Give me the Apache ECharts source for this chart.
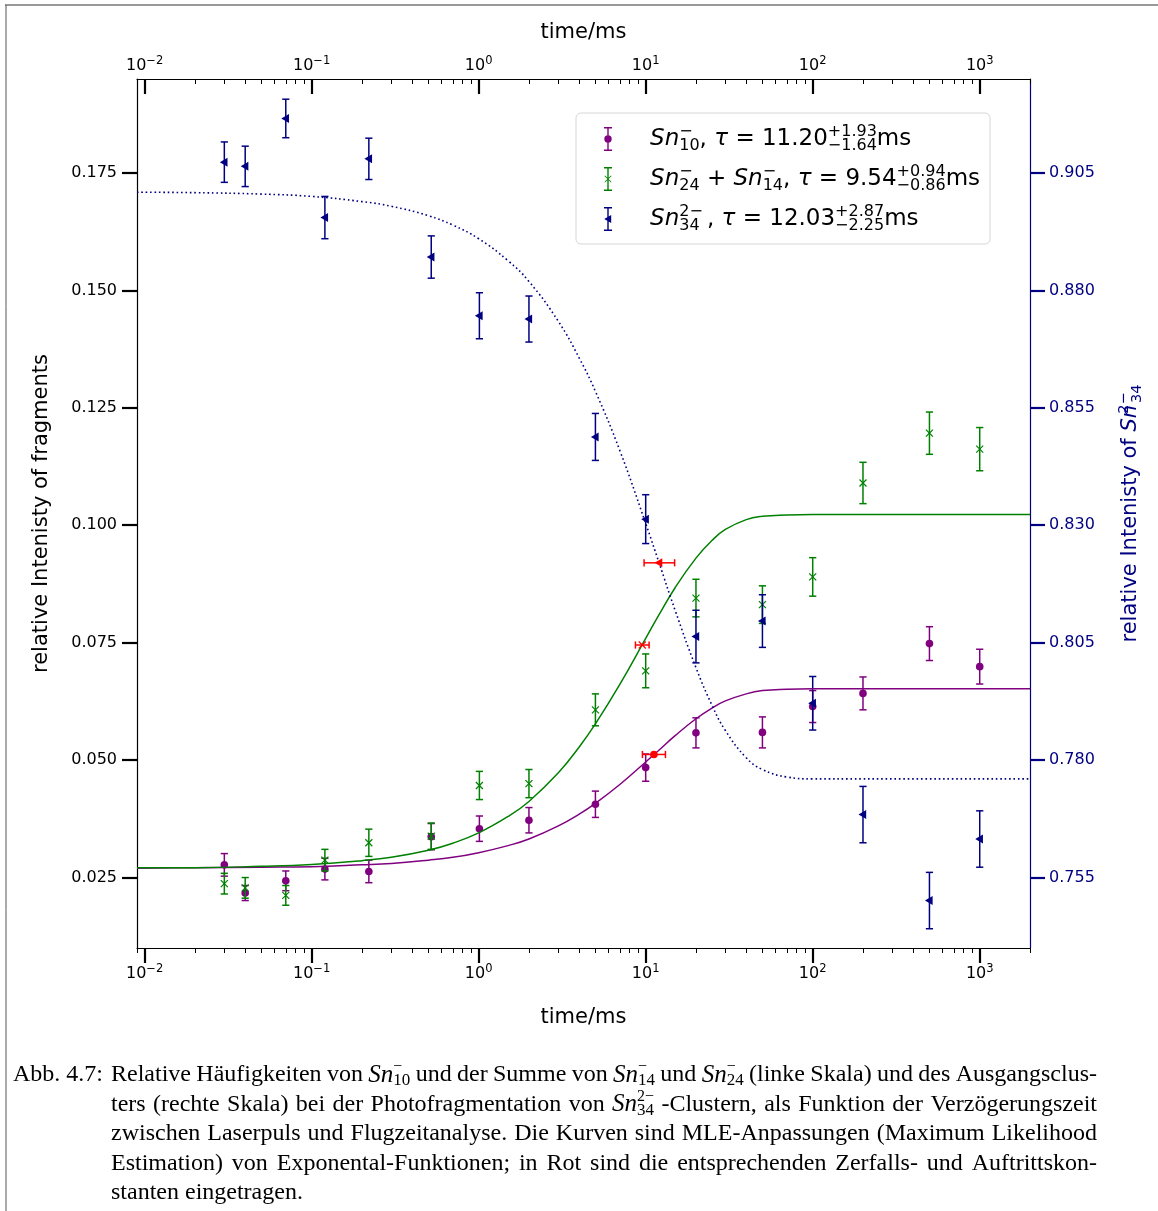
<!DOCTYPE html>
<html><head><meta charset="utf-8">
<script src="https://cdn.jsdelivr.net/npm/echarts@6/dist/echarts.min.js"></script>
<style>html,body{margin:0;padding:0;background:#fff}#c{width:1158px;height:1211px}</style>
</head><body><div id="c"></div><script>
// ---------------- data ----------------
const times = [0.03, 0.04, 0.07, 0.12, 0.22, 0.52, 1.01, 2.0, 5.0, 10, 20, 50, 100, 200, 500, 1000];
const sn10 =    [0.0277, 0.0217, 0.0243, 0.0268, 0.0263, 0.0337, 0.0354, 0.0372, 0.0406, 0.0484, 0.0558, 0.0559, 0.0614, 0.0642, 0.0748, 0.0699];
const sn10Err = [0.0024, 0.0016, 0.0021, 0.0023, 0.0024, 0.0028, 0.0027, 0.0027, 0.0028, 0.0029, 0.0032, 0.0033, 0.0034, 0.0035, 0.0036, 0.0037];
const sn24 =    [0.0237, 0.0228, 0.0212, 0.0287, 0.0324, 0.0338, 0.0446, 0.0450, 0.0607, 0.0690, 0.0845, 0.0831, 0.0890, 0.1090, 0.1196, 0.1162];
const sn24Err = [0.0022, 0.0022, 0.0021, 0.0023, 0.0029, 0.0028, 0.0030, 0.0030, 0.0034, 0.0036, 0.0040, 0.0040, 0.0041, 0.0044, 0.0045, 0.0046];
const sn34 =    [0.9073, 0.9064, 0.9166, 0.8955, 0.9080, 0.8871, 0.8746, 0.8739, 0.8488, 0.8313, 0.8063, 0.8096, 0.7921, 0.7684, 0.7501, 0.7632];
const sn34Err = [0.0043, 0.0043, 0.0041, 0.0045, 0.0044, 0.0045, 0.0049, 0.0049, 0.0050, 0.0052, 0.0056, 0.0056, 0.0057, 0.0060, 0.0060, 0.0060];

const curveTimes = [0.009, 0.02, 0.05, 0.1, 0.2, 0.3, 0.5, 0.7, 1, 1.5, 2, 3, 4, 5, 7, 10, 12, 15, 20, 25, 30, 40, 50, 70, 100, 200, 2000];
const sn10Curve = [0.0270, 0.0271, 0.0272, 0.0273, 0.0277, 0.0280, 0.0287, 0.0293, 0.0303, 0.0318, 0.0332, 0.0360, 0.0385, 0.0408, 0.0448, 0.0496, 0.0521, 0.0552, 0.0588, 0.0611, 0.0626, 0.0641, 0.0648, 0.0651, 0.0652, 0.0652, 0.0652];
const sn24Curve = [0.0271, 0.0271, 0.0274, 0.0278, 0.0286, 0.0293, 0.0308, 0.0323, 0.0345, 0.0380, 0.0412, 0.0473, 0.0528, 0.0577, 0.0661, 0.0759, 0.0809, 0.0867, 0.0930, 0.0968, 0.0991, 0.1012, 0.1019, 0.1022, 0.1023, 0.1023, 0.1023];
const sn34Curve = [0.9009, 0.9008, 0.9005, 0.9000, 0.8989, 0.8979, 0.8959, 0.8939, 0.8910, 0.8863, 0.8819, 0.8734, 0.8656, 0.8585, 0.8459, 0.8304, 0.8221, 0.8119, 0.7997, 0.7916, 0.7863, 0.7805, 0.7780, 0.7764, 0.7760, 0.7760, 0.7760];

const tauTimes   = [11.20, 9.54, 12.03];
const tauValues  = [0.0512, 0.0745, 0.0920];
const tauErrLow  = [1.64, 0.86, 2.25];
const tauErrHigh = [1.93, 0.94, 2.87];
const tauMarkers = ['circle', 'x', 'tri'];

const xMajorExps = [-2, -1, 0, 1, 2, 3];
const xMinorMultiples = [2, 3, 4, 5, 6, 7, 8, 9];
const leftTicks  = [0.025, 0.050, 0.075, 0.100, 0.125, 0.150, 0.175];
const rightTicks = [0.755, 0.780, 0.805, 0.830, 0.855, 0.880, 0.905];

// ---------------- styling ----------------
const PURPLE = '#800080', GREEN = '#008000', NAVY = '#000080', RED = '#ff0000';
const AF = 'DejaVu Sans';
const xMin = Math.log10(0.009), xMax = Math.log10(2000);
const xMinor = [];
[-3, -2, -1, 0, 1, 2, 3].forEach(d => xMinorMultiples.forEach(m => {
  const v = Math.log10(m) + d; if (v >= xMin - 1e-9 && v <= xMax + 1e-9) xMinor.push(v);
}));

function markerShape(kind, cx, cy, color) {
  if (kind === 'circle') return {type: 'circle', shape: {cx, cy, r: 3.8}, style: {fill: color}};
  if (kind === 'x') return {type: 'group', children: [
    {type: 'line', shape: {x1: cx - 3.5, y1: cy - 3.5, x2: cx + 3.5, y2: cy + 3.5}, style: {stroke: color, lineWidth: 1.2}},
    {type: 'line', shape: {x1: cx - 3.5, y1: cy + 3.5, x2: cx + 3.5, y2: cy - 3.5}, style: {stroke: color, lineWidth: 1.2}}]};
  return {type: 'polygon', shape: {points: [[cx - 4.5, cy], [cx + 3.2, cy - 4.5], [cx + 3.2, cy + 4.5]]}, style: {fill: color}};
}

function errSeries(name, color, vals, errs, marker, yAxisIndex) {
  return {
    type: 'custom', name, xAxisIndex: 0, yAxisIndex, silent: true, z: 2,
    itemStyle: {color},
    data: times.map((t, i) => [Math.log10(t), vals[i], errs[i]]),
    renderItem(params, api) {
      const x = api.value(0), y = api.value(1), e = api.value(2);
      const c = api.coord([x, y]), t = api.coord([x, y + e]), b = api.coord([x, y - e]);
      const cw = 3.6, st = {stroke: color, lineWidth: 1.5};
      return {type: 'group', children: [
        {type: 'line', shape: {x1: c[0], y1: t[1], x2: c[0], y2: b[1]}, style: st},
        {type: 'line', shape: {x1: c[0] - cw, y1: t[1], x2: c[0] + cw, y2: t[1]}, style: st},
        {type: 'line', shape: {x1: c[0] - cw, y1: b[1], x2: c[0] + cw, y2: b[1]}, style: st},
        markerShape(marker, c[0], c[1], color)
      ]};
    }
  };
}

function curveSeries(name, vals, color, yAxisIndex, dotted) {
  return {
    type: 'line', name, xAxisIndex: 0, yAxisIndex, silent: true, z: 3,
    data: curveTimes.map((t, i) => [Math.log10(t), vals[i]]),
    showSymbol: false, symbol: 'none', smooth: 0.45,
    lineStyle: {color, width: dotted ? 1.6 : 1.5, type: dotted ? [1.6, 2.8] : 'solid'}
  };
}

const tauSeries = {
  type: 'custom', name: 'tau', xAxisIndex: 0, yAxisIndex: 0, silent: true, z: 4,
  data: tauTimes.map((t, i) => [Math.log10(t), tauValues[i], Math.log10(t - tauErrLow[i]), Math.log10(t + tauErrHigh[i]), i]),
  renderItem(params, api) {
    const x = api.value(0), y = api.value(1), xl = api.value(2), xh = api.value(3), k = api.value(4);
    const c = api.coord([x, y]), l = api.coord([xl, y]), h = api.coord([xh, y]);
    const ch = 3.6, st = {stroke: RED, lineWidth: 1.5};
    return {type: 'group', children: [
      {type: 'line', shape: {x1: l[0], y1: c[1], x2: h[0], y2: c[1]}, style: st},
      {type: 'line', shape: {x1: l[0], y1: c[1] - ch, x2: l[0], y2: c[1] + ch}, style: st},
      {type: 'line', shape: {x1: h[0], y1: c[1] - ch, x2: h[0], y2: c[1] + ch}, style: st},
      markerShape(tauMarkers[k], c[0], c[1], RED)
    ]};
  }
};

const xRich = {
  b: {fontSize: 16, fontFamily: AF, color: '#000', lineHeight: 20},
  s: {fontSize: 11.5, fontFamily: AF, color: '#000', padding: [0, 0, 10, 0], lineHeight: 20}
};
function xLabel(v) { const e = Math.round(v); return '{b|10}{s|' + (e < 0 ? '\u2212' + (-e) : e) + '}'; }
const xBase = {type: 'value', min: xMin, max: xMax, splitLine: {show: false}};

// legend
const BARS = 'M0,0H8V1.4H0Z M3.3,0H4.7V24H3.3Z M0,22.6H8V24H0Z ';
const ICON_CIRCLE = 'path://' + BARS + 'M0.3,12A3.7,3.7 0 1 1 7.7,12A3.7,3.7 0 1 1 0.3,12Z';
const ICON_X = 'path://' + BARS + 'M1,8.4L7.6,15L7,15.6L0.4,9Z M7,8.4L7.6,9L1,15.6L0.4,15Z';
const ICON_TRI = 'path://' + BARS + 'M0.2,12L7.2,8L7.2,16Z';
const legendText = {
  sn10: '{pad|    }{it|Sn}{sp|\u2212}{sb|10}{n|, }{it|\u03c4}{n| = 11.20}{sp|+1.93}{sb|\u22121.64}{n|ms}',
  sn24: '{pad|    }{it|Sn}{sp|\u2212}{sb|24}{n| + }{it|Sn}{sp|\u2212}{sb|14}{n|, }{it|\u03c4}{n| = 9.54}{sp|+0.94}{sb|\u22120.86}{n|ms}',
  sn34: '{pad|    }{it|Sn}{sp|2\u2212}{sb|34}{n| , }{it|\u03c4}{n| = 12.03}{sp|+2.87}{sb|\u22122.25}{n|ms}'
};
const legRich = {
  pad: {fontFamily: AF, fontSize: 26, lineHeight: 30},
  it: {fontFamily: AF, fontStyle: 'italic', fontSize: 23, lineHeight: 30, color: '#000'},
  n: {fontFamily: AF, fontSize: 23, lineHeight: 30, color: '#000'},
  sp: {fontFamily: AF, fontSize: 16, width: 0, padding: [0, 0, 14, 0], lineHeight: 30, color: '#000'},
  sb: {fontFamily: AF, fontSize: 16, padding: [14, 0, 0, 0], lineHeight: 30, color: '#000'}
};

// ---------------- caption (justified rich text lines) ----------------
const captionLead = 'Abb. 4.7:';
const captionLines = [
  'Relative Häufigkeiten von $Sn|\u2212|10$ und der Summe von $Sn|\u2212|14$ und $Sn|\u2212|24$ (linke Skala) und des Ausgangsclus-',
  'ters (rechte Skala) bei der Photofragmentation von $Sn|2\u2212|34$ -Clustern, als Funktion der Verzögerungszeit',
  'zwischen Laserpuls und Flugzeitanalyse. Die Kurven sind MLE-Anpassungen (Maximum Likelihood',
  'Estimation) von Exponental-Funktionen; in Rot sind die entsprechenden Zerfalls- und Auftrittskon-',
  'stanten eingetragen.'
];
const CF = 'Liberation Serif', CS = 24;
const capY = [1075, 1104.5, 1134, 1163.5, 1193];
const capX0 = 111, capX1 = 1097;
const mctx = document.createElement('canvas').getContext('2d');
function mw(font, text) { mctx.font = font; return mctx.measureText(text).width; }
const tokFont = {
  t: `normal ${CS}px "${CF}"`, m: `italic ${CS + 1}px "${CF}"`, b: `normal 17px "${CF}"`
};
const capRich = {
  t: {fontFamily: CF, fontSize: CS, lineHeight: 30, fill: '#000'},
  m: {fontFamily: CF, fontStyle: 'italic', fontSize: CS + 1, lineHeight: 30, fill: '#000'},
  p: {fontFamily: CF, fontSize: 16, width: 0, padding: [0, 0, 16, 0], lineHeight: 30, fill: '#000'},
  b: {fontFamily: CF, fontSize: 17, padding: [12, 0, 0, 0], lineHeight: 30, fill: '#000'}
};
const capGraphics = [];
captionLines.forEach((line, li) => {
  const words = line.split(' ').map(w => {
    if (w.startsWith('$')) { const p = w.slice(1, -1).split('|'); return [['m', p[0]], ['p', p[1]], ['b', p[2]]]; }
    return [['t', w]];
  });
  let natural = 0;
  words.forEach(ws => ws.forEach(([s, txt]) => { if (s !== 'p') natural += mw(tokFont[s], txt); }));
  const spaceW = mw(tokFont.t, ' ');
  const gap = (li < captionLines.length - 1) ? (capX1 - capX0 - natural) / (words.length - 1) : spaceW;
  const gname = 'g' + li;
  capRich[gname] = {fontFamily: CF, fontSize: CS, lineHeight: 30, width: Math.max(gap, 2)};
  const str = words.map(ws => ws.map(([s, txt]) => '{' + s + '|' + txt + '}').join('')).join('{' + gname + '| }');
  capGraphics.push({type: 'text', x: capX0, y: capY[li], silent: true,
    style: {text: str, rich: capRich, align: 'left', verticalAlign: 'middle', fontFamily: CF, fontSize: CS, fill: '#000'}});
});
capGraphics.push({type: 'text', x: 13, y: capY[0], silent: true,
  style: {text: captionLead, align: 'left', verticalAlign: 'middle', fontFamily: CF, fontSize: CS, fill: '#000', lineHeight: 30}});

// ---------------- chart ----------------
const chart = echarts.init(document.getElementById('c'), null, {renderer: 'canvas'});
chart.setOption({
  animation: false,
  backgroundColor: '#fff',
  grid: {left: 137, top: 79, width: 893, height: 869, containLabel: false},
  xAxis: [
    {...xBase, position: 'bottom',
      axisLine: {show: true, onZero: false, lineStyle: {color: '#000', width: 1.2}},
      axisTick: {show: true, customValues: xMajorExps, length: 15, inside: false, lineStyle: {color: '#000', width: 2.2}},
      axisLabel: {show: true, customValues: xMajorExps, formatter: xLabel, rich: xRich, margin: 16},
      name: 'time/ms', nameLocation: 'middle', nameGap: 59,
      nameTextStyle: {fontSize: 21, fontFamily: AF, color: '#000'}},
    {...xBase, position: 'top',
      axisLine: {show: true, onZero: false, lineStyle: {color: '#000', width: 1.2}},
      axisTick: {show: true, customValues: xMajorExps, length: 15, inside: true, lineStyle: {color: '#000', width: 2.2}},
      axisLabel: {show: true, customValues: xMajorExps, formatter: xLabel, rich: xRich, margin: 3},
      name: 'time/ms', nameLocation: 'middle', nameGap: 36,
      nameTextStyle: {fontSize: 21, fontFamily: AF, color: '#000'}},
    {...xBase, position: 'bottom',
      axisLine: {show: false, onZero: false},
      axisTick: {show: true, customValues: xMinor, length: 5, inside: false, lineStyle: {color: '#000', width: 1}},
      axisLabel: {show: false}},
    {...xBase, position: 'top',
      axisLine: {show: false, onZero: false},
      axisTick: {show: true, customValues: xMinor, length: 5, inside: true, lineStyle: {color: '#000', width: 1}},
      axisLabel: {show: false}}
  ],
  yAxis: [
    {type: 'value', position: 'left', min: 0.01, max: 0.195, splitLine: {show: false},
      axisLine: {show: true, onZero: false, lineStyle: {color: '#000', width: 1.2}},
      axisTick: {show: true, customValues: leftTicks, length: 15, lineStyle: {color: '#000', width: 2.2}},
      axisLabel: {show: true, customValues: leftTicks, formatter: v => v.toFixed(3), fontSize: 16, fontFamily: AF, color: '#000', margin: 20},
      name: 'relative Intenisty of fragments', nameLocation: 'middle', nameGap: 85,
      nameTextStyle: {fontSize: 21, fontFamily: AF, color: '#000'}},
    {type: 'value', position: 'right', min: 0.74, max: 0.925, splitLine: {show: false},
      axisLine: {show: true, onZero: false, lineStyle: {color: NAVY, width: 1.2}},
      axisTick: {show: true, customValues: rightTicks, length: 15, lineStyle: {color: NAVY, width: 2.2}},
      axisLabel: {show: true, customValues: rightTicks, formatter: v => v.toFixed(3), fontSize: 16, fontFamily: AF, color: NAVY, margin: 19},
      name: '{n|relative Intenisty of }{it|Sn}{sp|2\u2212}{sb|34}', nameLocation: 'middle', nameGap: 89,
      nameTextStyle: {color: NAVY, rich: {
        n: {fontSize: 21, fontFamily: AF, color: NAVY, lineHeight: 24},
        it: {fontSize: 21, fontFamily: AF, fontStyle: 'italic', color: NAVY, lineHeight: 24, padding: [0, 2, 0, 0]},
        sp: {fontSize: 14.5, fontFamily: AF, color: NAVY, width: 0, padding: [0, 0, 14, 0], lineHeight: 24},
        sb: {fontSize: 14.5, fontFamily: AF, color: NAVY, padding: [12, 0, 0, 0], lineHeight: 24}
      }}}
  ],
  legend: {
    show: true, orient: 'vertical', left: 576, top: 113, selectedMode: false,
    padding: [11, 10, 10, 28], itemGap: 10, itemWidth: 8, itemHeight: 24,
    backgroundColor: '#fff', borderColor: '#d6d6d6', borderWidth: 1, borderRadius: 5,
    data: [{name: 'sn10', icon: ICON_CIRCLE}, {name: 'sn24', icon: ICON_X}, {name: 'sn34', icon: ICON_TRI}],
    formatter: name => legendText[name],
    textStyle: {rich: legRich}
  },
  graphic: [
    {type: 'line', silent: true, shape: {x1: 5, y1: 5, x2: 1158, y2: 5}, style: {stroke: '#777', lineWidth: 1.5}},
    {type: 'line', silent: true, shape: {x1: 6, y1: 5, x2: 6, y2: 1211}, style: {stroke: '#555', lineWidth: 1}},
    ...capGraphics
  ],
  series: [
    errSeries('sn10', PURPLE, sn10, sn10Err, 'circle', 0),
    errSeries('sn24', GREEN, sn24, sn24Err, 'x', 0),
    errSeries('sn34', NAVY, sn34, sn34Err, 'tri', 1),
    curveSeries('fit10', sn10Curve, PURPLE, 0, false),
    curveSeries('fit24', sn24Curve, GREEN, 0, false),
    curveSeries('fit34', sn34Curve, NAVY, 1, true),
    tauSeries
  ]
});
</script></body></html>
